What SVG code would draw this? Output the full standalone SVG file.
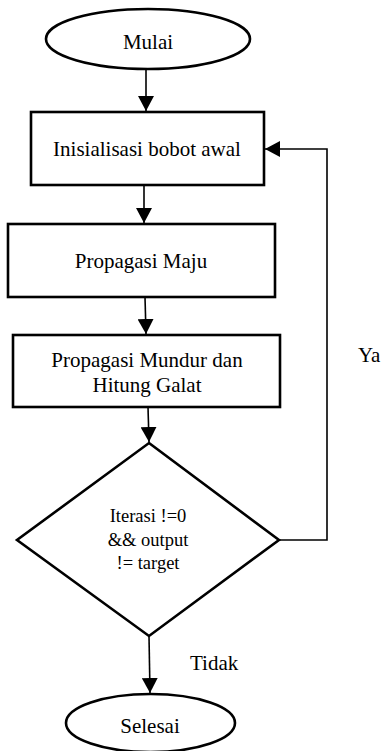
<svg xmlns="http://www.w3.org/2000/svg" width="384" height="751" viewBox="0 0 384 751">
<style>
.shape{fill:#fff;stroke:#000;stroke-width:2.6}
text{font-family:'Liberation Serif','Times New Roman','DejaVu Serif',serif;fill:#000}
.t{font-size:21px;text-anchor:middle}
.d{font-size:18.5px;text-anchor:middle}
.lbl{font-size:21px}
.c{fill:none;stroke:#000;stroke-width:1.6}
</style>
<defs>
<marker id="ah" markerUnits="userSpaceOnUse" markerWidth="16" markerHeight="16" viewBox="0 0 16 16" refX="15" refY="8" orient="auto">
<path d="M0,0 L15,8 L0,16 Z" fill="#000"/>
</marker>
</defs>
<rect width="384" height="751" fill="#fff"/>
<g id="connectors">
<line class="c" x1="146" y1="69" x2="146" y2="111" marker-end="url(#ah)"/>
<line class="c" x1="144" y1="186" x2="144" y2="223" marker-end="url(#ah)"/>
<line class="c" x1="145" y1="297" x2="146" y2="334" marker-end="url(#ah)"/>
<line class="c" x1="148" y1="407" x2="149" y2="442" marker-end="url(#ah)"/>
<line class="c" x1="149" y1="636" x2="150" y2="693" marker-end="url(#ah)"/>
<polyline class="c" points="279,540 327,540 327,149 265,149" marker-end="url(#ah)"/>
<text class="lbl" x="358" y="362">Ya</text>
<text class="lbl" x="190" y="670">Tidak</text>
</g>
<g id="mulai">
<ellipse class="shape" cx="148" cy="39" rx="102" ry="30"/>
<text class="t" x="148" y="49">Mulai</text>
</g>
<g id="inisialisasi">
<rect class="shape" x="31" y="112" width="233" height="73"/>
<text class="t" x="147" y="156">Inisialisasi bobot awal</text>
</g>
<g id="maju">
<rect class="shape" x="8" y="224" width="267" height="73"/>
<text class="t" x="141" y="268">Propagasi Maju</text>
</g>
<g id="mundur">
<rect class="shape" x="13" y="335" width="267" height="72"/>
<text class="t" x="147" y="367">Propagasi Mundur dan</text>
<text class="t" x="147" y="392">Hitung Galat</text>
</g>
<g id="kondisi">
<polygon class="shape" points="149,443 279,540 149,636 17,540"/>
<text class="d" x="148" y="522">Iterasi !=0</text>
<text class="d" x="148" y="546">&amp;&amp; output</text>
<text class="d" x="148" y="569">!= target</text>
</g>
<g id="selesai">
<ellipse class="shape" cx="150.5" cy="723" rx="84.5" ry="29"/>
<text class="t" x="150" y="733">Selesai</text>
</g>
</svg>
